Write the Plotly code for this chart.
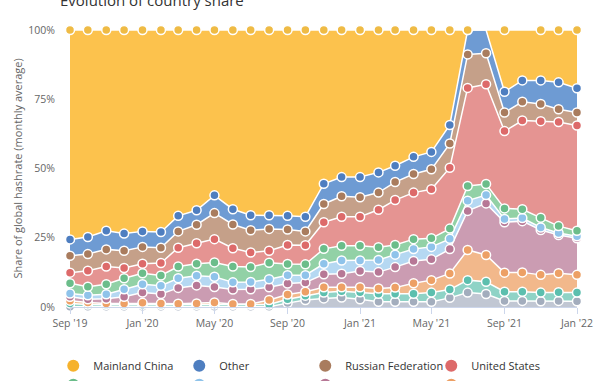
import plotly.graph_objects as go

months = ["2019-09-01", "2019-10-01", "2019-11-01", "2019-12-01",
          "2020-01-01", "2020-02-01", "2020-03-01", "2020-04-01", "2020-05-01", "2020-06-01",
          "2020-07-01", "2020-08-01", "2020-09-01", "2020-10-01", "2020-11-01", "2020-12-01",
          "2021-01-01", "2021-02-01", "2021-03-01", "2021-04-01", "2021-05-01", "2021-06-01",
          "2021-07-01", "2021-08-01", "2021-09-01", "2021-10-01", "2021-11-01", "2021-12-01",
          "2022-01-01"]

tick_dates = ["2019-09-01", "2020-01-01", "2020-05-01", "2020-09-01",
              "2021-01-01", "2021-05-01", "2021-09-01", "2022-01-01"]
tick_labels = ["Sep '19", "Jan '20", "May '20", "Sep '20",
               "Jan '21", "May '21", "Sep '21", "Jan '22"]

ireland = [0.1, 0.1, 0.1, 0.1, 0.1, 0.1, 0.1, 0.1, 0.1, 0.1, 0.1, 0.1, 1.4, 2.5, 3.1, 3.4,
           2.8, 1.9, 1.9, 1.9, 1.9, 3.3, 5.2, 4.7, 2.2, 2.2, 2.1, 2.2, 2.1]
germany = [1.2, 0.8, 0.7, 0.7, 0.7, 0.7, 0.7, 0.7, 0.8, 0.7, 0.7, 0.8, 1.4, 1.6, 2.1, 2.3,
           2.5, 2.9, 2.9, 2.9, 3.3, 3.0, 4.5, 4.4, 3.3, 3.3, 3.1, 3.1, 3.1]
canada = [1.0, 0.7, 0.5, 0.5, 0.7, 0.5, 0.4, 0.5, 0.7, 0.3, 0.3, 1.6, 1.7, 1.4, 1.9, 1.4,
          1.8, 1.9, 2.2, 3.8, 4.5, 5.8, 10.9, 9.7, 6.9, 7.0, 6.4, 6.9, 6.4]
kazakhstan = [1.4, 1.2, 1.7, 2.4, 3.7, 3.4, 5.7, 6.5, 5.6, 5.2, 5.3, 4.6, 4.0, 3.3, 4.7, 4.9,
              5.9, 5.9, 7.4, 8.0, 7.5, 8.8, 14.1, 18.6, 18.2, 18.5, 16.2, 13.8, 13.2]
iran = [1.2, 1.4, 1.6, 2.7, 3.0, 3.0, 3.5, 3.5, 3.7, 2.6, 2.6, 2.9, 3.0, 2.7, 3.8, 4.8,
        3.8, 4.4, 4.5, 4.3, 4.5, 3.7, 3.7, 3.0, 1.2, 1.1, 0.9, 0.7, 0.7]
malaysia = [3.7, 3.1, 3.6, 4.0, 4.0, 3.7, 4.2, 4.3, 5.2, 5.7, 5.4, 6.0, 4.0, 3.9, 5.4, 5.3,
            5.3, 4.6, 3.5, 3.6, 3.1, 3.7, 5.3, 4.0, 3.8, 3.2, 3.5, 2.5, 2.0]
united_states = [3.8, 5.8, 6.4, 3.7, 3.4, 4.5, 6.8, 7.4, 8.4, 6.6, 5.3, 4.3, 6.9, 6.9, 9.6, 10.5,
                 10.5, 13.5, 16.2, 16.8, 17.7, 22.0, 35.4, 36.0, 27.9, 32.0, 34.9, 37.6, 38.0]
russia = [6.1, 6.0, 6.2, 6.2, 6.1, 5.5, 5.9, 6.7, 9.4, 8.6, 8.0, 7.9, 5.6, 5.0, 6.6, 7.4,
          7.0, 6.2, 6.5, 6.7, 7.2, 8.7, 12.1, 11.2, 6.7, 6.8, 6.2, 4.6, 4.7]
other = [5.9, 6.2, 6.7, 6.2, 5.6, 5.7, 5.6, 5.2, 6.4, 5.5, 5.4, 4.9, 4.9, 5.3, 7.3, 6.9,
         7.3, 7.3, 5.9, 6.2, 6.3, 6.7, 8.8, 8.4, 7.5, 7.7, 8.5, 9.7, 8.8]
mainland_china = [75.6, 74.7, 72.5, 73.5, 72.7, 72.9, 67.1, 65.1, 59.7, 64.7, 66.9, 66.9, 67.1, 67.4,
                  55.5, 53.1, 53.1, 51.4, 49.0, 45.8, 44.0, 34.3, 0.0, 0.0, 22.3, 18.2, 18.2, 18.9, 21.0]

# stacking order bottom -> top
series = [
    ("Ireland", ireland, "#a3adbd", "#c1c7d3"),
    ("Germany", germany, "#5cbfae", "#8fd3c6"),
    ("Canada", canada, "#eda065", "#f2b88b"),
    ("Kazakhstan", kazakhstan, "#b77896", "#cb9cb2"),
    ("Iran, Islamic Rep.", iran, "#8fc3ea", "#b5d8f2"),
    ("Malaysia", malaysia, "#6bbd8a", "#92d1a6"),
    ("United States", united_states, "#dd6a6a", "#e59492"),
    ("Russian Federation", russia, "#a97c5e", "#c5a089"),
    ("Other", other, "#4e7ec0", "#6e9bd3"),
    ("Mainland China", mainland_china, "#f6b22c", "#fcc24d"),
]

fig = go.Figure()
for name, vals, mcol, fcol in series:
    dot = "#efbb45" if name == "Mainland China" else mcol
    fig.add_trace(go.Scatter(
        x=months, y=vals, name=name, stackgroup="one", mode="lines+markers",
        line=dict(color="white", width=1.5), fillcolor=fcol,
        marker=dict(color=dot, size=9, line=dict(color="white", width=1.5)),
        showlegend=False, cliponaxis=False, hoverinfo="skip",
    ))

# legend entries (circle markers only)
for name, vals, mcol, fcol in reversed(series):
    fig.add_trace(go.Scatter(
        x=[None], y=[None], name=name, mode="markers",
        marker=dict(color=mcol, size=11), showlegend=True,
    ))

fig.update_layout(
    width=600, height=381,
    margin=dict(l=70, r=23, t=30, b=74, autoexpand=False),
    paper_bgcolor="white", plot_bgcolor="white",
    font=dict(family="Open Sans, Noto Sans, sans-serif", color="#666666"),
    showlegend=True,
    legend=dict(orientation="h", x=-0.033, xanchor="left", y=-0.16, yanchor="top",
                entrywidth=81, entrywidthmode="pixels", traceorder="normal",
                font=dict(size=11, color="#333333"), itemsizing="constant",
                tracegroupgap=0),
    xaxis=dict(type="date", range=["2019-09-01", "2022-01-01"],
               tickvals=tick_dates, ticktext=tick_labels,
               ticks="outside", ticklen=6, tickcolor="#ccd6eb",
               showline=True, linecolor="#ccd6eb", showgrid=False, zeroline=False,
               tickfont=dict(size=10.5, color="#666666")),
    yaxis=dict(range=[0, 100], tickvals=[0, 25, 50, 75, 100],
               ticktext=["0%", "25%", "50%", "75%", "100%"],
               showgrid=True, gridcolor="#eeeeee", zeroline=False, showline=False,
               ticklabelstandoff=14,
               tickfont=dict(size=10.5, color="#666666")),
    annotations=[
        dict(text="Evolution of country share", xref="paper", yref="paper",
             x=-0.024, y=1.108, xanchor="left", yanchor="middle", showarrow=False,
             font=dict(size=15, color="#333333")),
        dict(text="Share of global hashrate (monthly average)", xref="paper", yref="paper",
             x=-0.1026, y=0.5, xanchor="center", yanchor="middle", textangle=-90,
             showarrow=False, font=dict(size=11, color="#666666")),
    ],
)

fig.write_html("out.html", config={"displayModeBar": False},
               post_script="document.body.style.margin='0px';document.body.style.overflow='hidden';")
